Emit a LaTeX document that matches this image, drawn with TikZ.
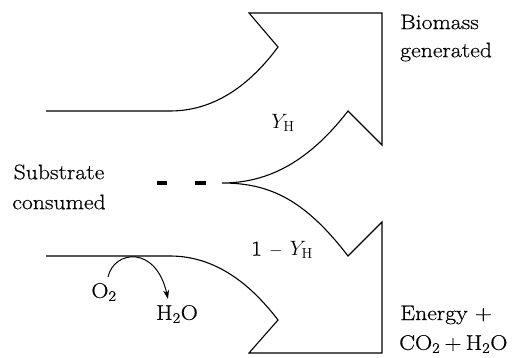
\documentclass[tikz,border=0pt]{standalone}
\usepackage{fontspec}
\newfontfamily\lblfont{Latin Modern Roman}[FakeStretch=1.13,FakeBold=0.5]
\usetikzlibrary{arrows.meta}
\begin{document}
\begin{tikzpicture}[x=1pt,y=-1pt,
  outline/.style={line width=1.1pt,line join=miter},
  lbl/.style={font=\lblfont\fontsize{21}{24}\selectfont,inner sep=0pt,align=left},
  dashpart/.style={line width=4pt}]
\useasboundingbox (0,0) rectangle (516,358);
% key points
\coordinate (tl) at (46,111);
\coordinate (ts) at (170,111);
\coordinate (tn) at (278,47);
\coordinate (tt) at (249,13);
\coordinate (tr) at (382,13);
\coordinate (trb) at (382,145);
\coordinate (tin) at (348,111);
\coordinate (cusp) at (222,183);
\coordinate (bin) at (348,256);
\coordinate (brt) at (382,222);
\coordinate (brb) at (382,353);
\coordinate (bb) at (249,353);
\coordinate (bn) at (278,320);
\coordinate (bs) at (170,256);
\coordinate (bl) at (46,256);
\draw[outline] (tl) -- (ts) .. controls (220,111) and (255,78) .. (tn) -- (tt) -- (tr) -- (trb) -- (tin)
  .. controls (310,160) and (270,183) .. (cusp)
  .. controls (270,183) and (305,200) .. (bin) -- (brt) -- (brb) -- (bb) -- (bn)
  .. controls (255,290) and (220,256) .. (bs) -- (bl);
\coordinate (d1a) at (157,183); \coordinate (d1b) at (167,183);
\coordinate (d2a) at (195,183); \coordinate (d2b) at (206,183);
\draw[dashpart] (d1a) -- (d1b);
\draw[dashpart] (d2a) -- (d2b);
% labels
\node[lbl,anchor=west] (bio) at (400,22) {Biomass};
\node[lbl,anchor=west] (gen) at (400,52) {generated};
\node[lbl] (yh) at (283,123) {$Y_{\mathrm{H}}$};
\node[lbl] (sub) at (59,172) {Substrate};
\node[lbl] (con) at (59,202) {consumed};
\node[lbl] (oyh) at (282,250) {1 {\fontsize{16}{18}\selectfont$-$} $Y_{\mathrm{H}}$};
\node[lbl] (o2) at (104,292) {O\textsubscript{2}};
\node[lbl] (h2o) at (177,314) {H\textsubscript{2}O};
\node[lbl,anchor=west] (en) at (400,315) {Energy +};
\node[lbl,anchor=west] (co2) at (399,344) {CO\textsubscript{2}\hspace{0.2em}+\hspace{0.2em}H\textsubscript{2}O};
% small reaction arrow
\coordinate (as) at (108,277);
\coordinate (ae) at (168,299);
\draw[line width=1pt,-{Stealth[length=9pt,width=6pt]}] (as)
  .. controls (114,250) and (156,245) .. (ae);
\end{tikzpicture}
\end{document}
